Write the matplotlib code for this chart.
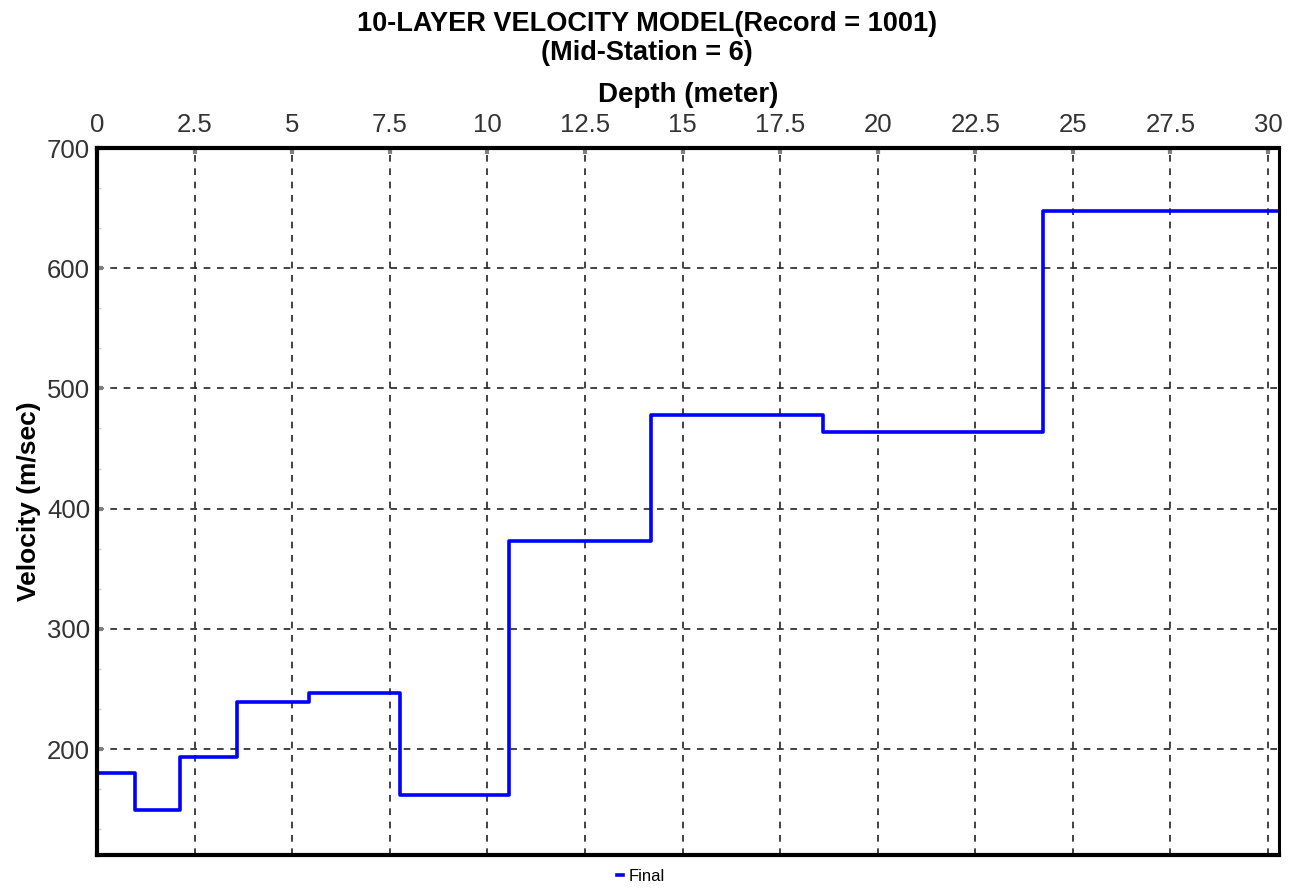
import matplotlib.pyplot as plt
from matplotlib.ticker import AutoMinorLocator

plt.rcParams['font.family'] = ['Liberation Sans', 'DejaVu Sans']

# layer tops (m) and velocities (m/sec), last layer runs to the axis end
depth_top = [0, 0.97, 2.13, 3.58, 5.44, 7.75, 10.56, 14.19, 18.61, 24.23]
velocity = [180, 149, 193, 239, 247, 162, 373, 478, 464, 648]
depth_max = 30.28

x_ticks = [0, 2.5, 5, 7.5, 10, 12.5, 15, 17.5, 20, 22.5, 25, 27.5, 30]
x_labels = ['0', '2.5', '5', '7.5', '10', '12.5', '15', '17.5', '20', '22.5', '25', '27.5', '30']
y_ticks = [200, 300, 400, 500, 600, 700]

fig = plt.figure(figsize=(12.94, 8.89), dpi=100)
ax = fig.add_axes([0.075, 0.0382, 0.9134, 0.7953])

xs = depth_top + [depth_max]
ys = velocity + [velocity[-1]]
ax.step(xs, ys, where='post', color='#0000ff', lw=2.6, label='Final')

ax.set_xlim(0, depth_max)
ax.set_ylim(111.8, 700)

ax.xaxis.tick_top()
ax.xaxis.set_label_position('top')
ax.set_xticks(x_ticks)
ax.set_xticklabels(x_labels)
ax.set_yticks(y_ticks)
ax.yaxis.set_minor_locator(AutoMinorLocator(3))

ax.tick_params(axis='both', which='major', direction='in', length=4, width=3,
               color='#808080', labelsize=18.5, labelcolor='#333333')
ax.tick_params(axis='x', which='major', pad=8)
ax.tick_params(axis='y', which='major', pad=5)
ax.tick_params(axis='y', which='minor', direction='in', length=3, width=1,
               color='#d0d0d0')

ax.grid(True, which='major', color='#222222', linestyle=(0, (4, 4)), lw=1.2)

for side in ['top', 'left', 'bottom']:
    ax.spines[side].set_linewidth(3)
ax.spines['right'].set_linewidth(2.2)

ax.set_xlabel('Depth (meter)', fontsize=20, fontweight='bold', labelpad=8)
ax.set_ylabel('Velocity (m/sec)', fontsize=19, fontweight='bold', labelpad=4)

fig.text(0.5, 0.9725, '10-LAYER VELOCITY MODEL(Record = 1001)', ha='center', va='center',
         fontsize=19.5, fontweight='bold')
fig.text(0.5, 0.9405, '(Mid-Station = 6)', ha='center', va='center',
         fontsize=19.5, fontweight='bold')

fig.legend(loc='center', bbox_to_anchor=(0.495, 0.014), frameon=False, fontsize=12,
           handlelength=0.4, handletextpad=0.3)

fig.savefig('out.png', dpi=100)
